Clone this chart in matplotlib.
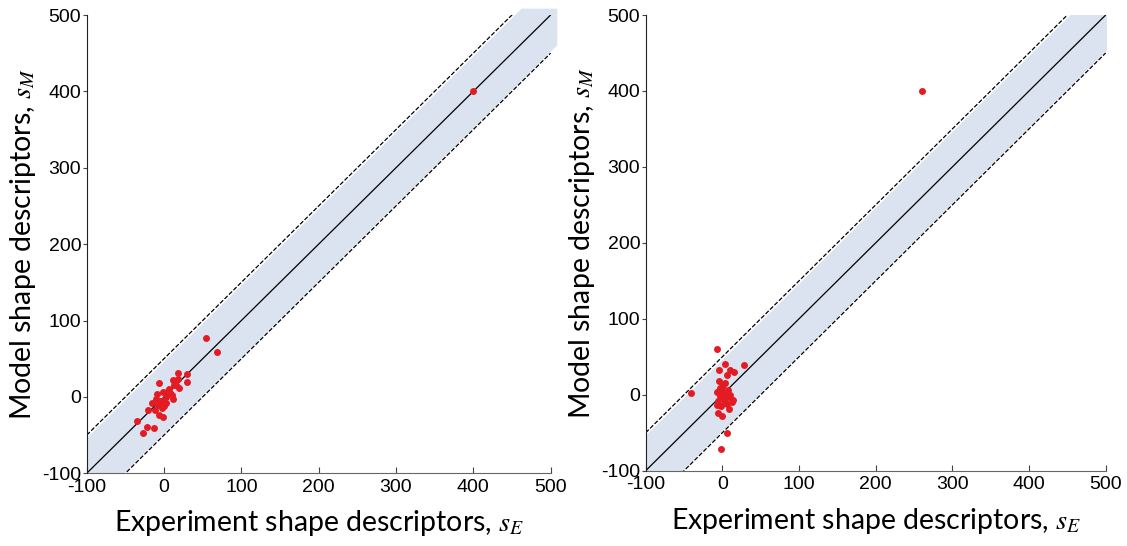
import numpy as np
import matplotlib
import matplotlib.pyplot as plt

matplotlib.use('Agg')

# values
left_se = [54, 69, 29.4, 18.5, 17.7, 29.4, 11.3, 13.3, -6, 6.9, 19.8, -0.9, 10, -9.4, 2.6,
           12, -3, -15.9, -7.4, 0.4, -20.3, -11.6, -3, -6, -0.9, -34.5, -22.4, -12.9, -27.6,
           400, 5, -5, 8, 15, -10, 3]
left_sm = [77, 59.4, 30.1, 31, 23.2, 20, 22.3, 15.7, 18, 10.1, 12.2, 7, 2.6, 3.5, 0.4,
           -3, -5.2, -8.3, -10.5, -11.8, -17, -17, -14.8, -23.6, -25.8, -31.5, -39.7, -41, -47.6,
           400, 8, -6, 5, 15, -3, -8]

right_se = [-7.4, -41.3, 28.6, 3, -4.4, 10, 15.6, 5.6, -4.8, 1.2, -3.1, 7.7, -7.4, 14.3,
            -7.4, 9, -6.1, -0.1, 5.6, -1.4, 260,
            0, 2, -3, 5, -5, 3, -2, 8, 10, -6, 0, 4, -1, 6, 12]
right_sm = [60.6, 2.3, 39.2, 40.9, 32.6, 32.6, 29.6, 25.6, 18.5, 12.8, 8.5, 6.3, 4, -6.9,
            -13.5, -19.2, -23.6, -27.6, -50, -71.4, 400,
            0, -5, -2, 2, 5, -10, -15, -3, 0, -8, 10, 15, 3, -12, -10]

band = 50
ticks = [-100, 0, 100, 200, 300, 400, 500]

plt.rcParams['mathtext.fontset'] = 'stix'
plt.rcParams['axes.unicode_minus'] = False

fig = plt.figure(figsize=(11.27, 5.46), dpi=100)
ax1 = fig.add_axes([86.7/1127, 1-473.3/546, (550.6-86.7)/1127, (473.3-15)/546])
ax2 = fig.add_axes([645.7/1127, 1-470.7/546, (1105.7-645.7)/1127, (470.7-15)/546])


def draw(ax, se, sm, clip):
    x = np.linspace(-100, 508, 400)
    lo = np.maximum(x - band + 3, -100)
    hi = np.minimum(x + band - 3, 509)
    ax.fill_between(x, lo, hi, color='#dae3ef', lw=0, clip_on=clip, zorder=1)
    ax.plot([-100, 500], [-100, 500], color='black', lw=0.9, zorder=2)
    ax.plot([-100, 500], [-100 + band, 500 + band], color='black', lw=0.9, ls=(0, (3.5, 1.5)), zorder=2)
    ax.plot([-100, 500], [-100 - band, 500 - band], color='black', lw=0.9, ls=(0, (3.5, 1.5)), zorder=2)
    ax.plot(se, sm, 'o', color='#e31b23', markersize=5, mec='none', zorder=3)
    ax.set_xlim(-100, 500)
    ax.set_ylim(-100, 500)
    ax.set_xticks(ticks)
    ax.set_yticks(ticks)
    for s in ['top', 'right']:
        ax.spines[s].set_visible(False)
    ax.spines['left'].set_color('#222222')
    ax.spines['bottom'].set_color('#666666')
    ax.spines['left'].set_zorder(4)
    ax.tick_params(axis='x', direction='in', length=4, labelsize=14, pad=4, color='#444444')
    ax.tick_params(axis='y', direction='out', length=3, labelsize=14, pad=1, color='#444444')
    for lab in ax.get_xticklabels() + ax.get_yticklabels():
        lab.set_fontfamily('Liberation Sans')
    ax.set_xlabel('Experiment shape descriptors, $s_E$', fontsize=20.5, family='Lato', labelpad=9)
    ax.set_ylabel('Model shape descriptors, $s_M$', fontsize=20.5, family='Lato', labelpad=3)


draw(ax1, left_se, left_sm, False)
draw(ax2, right_se, right_sm, True)

plt.savefig('out.png', dpi=100)
plt.close()
